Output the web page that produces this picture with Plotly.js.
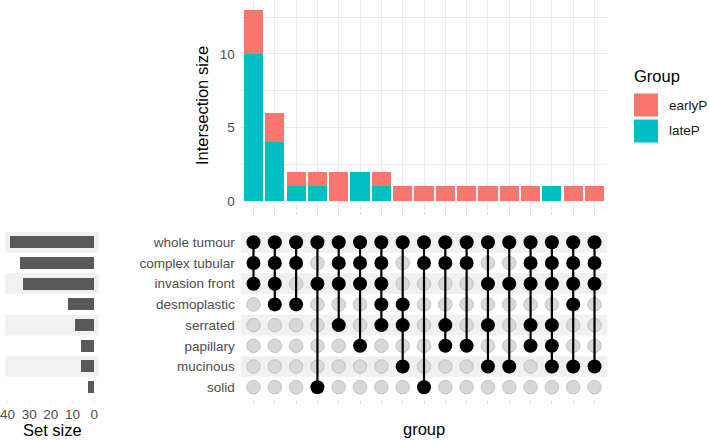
<!DOCTYPE html>
<html>
<head>
<meta charset="utf-8">
<script src="https://cdn.plot.ly/plotly-3.0.1.min.js"></script>
<style>html,body{margin:0;padding:0;background:#fff;}#chart{width:709px;height:441px;}</style>
</head>
<body>
<div id="chart"></div>
<script>
// ---- data ----
const sets = ['whole tumour','complex tubular','invasion front','desmoplastic','serrated','papillary','mucinous','solid'];
const setSizes = [39, 34, 33, 12, 9, 6, 6, 3];
const intersections = [
  ['whole tumour','complex tubular','invasion front'],
  ['whole tumour','complex tubular','invasion front','desmoplastic'],
  ['whole tumour','complex tubular','desmoplastic'],
  ['whole tumour','invasion front','solid'],
  ['whole tumour','complex tubular','invasion front','serrated'],
  ['whole tumour','complex tubular','invasion front','papillary'],
  ['whole tumour','complex tubular','invasion front','desmoplastic','serrated'],
  ['whole tumour','desmoplastic','serrated','mucinous'],
  ['whole tumour','complex tubular','solid'],
  ['whole tumour','complex tubular','serrated','papillary'],
  ['whole tumour','complex tubular','papillary'],
  ['whole tumour','invasion front','serrated','mucinous'],
  ['whole tumour','invasion front','mucinous'],
  ['whole tumour','complex tubular','invasion front','serrated','papillary'],
  ['whole tumour','complex tubular','invasion front','serrated','papillary','mucinous'],
  ['whole tumour','complex tubular','invasion front','desmoplastic','mucinous'],
  ['whole tumour','complex tubular','invasion front','mucinous']
];
const earlyP = [3, 2, 1, 1, 2, 0, 1, 1, 1, 1, 1, 1, 1, 1, 0, 1, 1];
const lateP  = [10, 4, 1, 1, 0, 2, 1, 0, 0, 0, 0, 0, 0, 0, 1, 0, 0];
const groups = ['earlyP', 'lateP'];
const groupColors = ['#F8766D', '#00BFC4'];
const yTicks = [0, 2.5, 5, 7.5, 10, 12.5];
const yTickText = ['0', '', '5', '', '10', ''];
const setTicks = [0, 10, 20, 30, 40];

// ---- helpers ----
const W = 709, H = 441;
const fx = p => p / W;
const fy = p => 1 - p / H;
const FONT = 'Liberation Sans, Arial, Helvetica, sans-serif';
const TICKC = '#4d4d4d';
const nSets = sets.length;
const cols = intersections.map((_, i) => i + 1);
const rowY = s => nSets - sets.indexOf(s);

// ---- traces ----
const traces = [];
traces.push({type:'bar', x: cols, y: lateP, name: groups[1], marker:{color: groupColors[1]}, width: 0.9, xaxis:'x', yaxis:'y', hoverinfo:'skip'});
traces.push({type:'bar', x: cols, y: earlyP, name: groups[0], marker:{color: groupColors[0]}, width: 0.9, xaxis:'x', yaxis:'y', hoverinfo:'skip'});

// matrix: grey dots, lines, black dots
const gx = [], gy = [], bx = [], by = [], lx = [], ly = [];
intersections.forEach((mem, i) => {
  const c = i + 1;
  sets.forEach(s => {
    if (mem.includes(s)) { bx.push(c); by.push(rowY(s)); }
    else { gx.push(c); gy.push(rowY(s)); }
  });
  const ys = mem.map(rowY);
  lx.push(c, c, null); ly.push(Math.max(...ys), Math.min(...ys), null);
});
traces.push({type:'scatter', mode:'markers', x: gx, y: gy, xaxis:'x2', yaxis:'y2', hoverinfo:'skip',
  marker:{size: 13.5, color:'#d8d8d8', line:{color:'#c2c2c2', width:1}}});
traces.push({type:'scatter', mode:'lines', x: lx, y: ly, xaxis:'x2', yaxis:'y2', hoverinfo:'skip',
  line:{color:'#000', width:2.2}});
traces.push({type:'scatter', mode:'markers', x: bx, y: by, xaxis:'x2', yaxis:'y2', hoverinfo:'skip',
  marker:{size: 14, color:'#000'}});

// set size bars
traces.push({type:'bar', orientation:'h', x: setSizes, y: sets.map(rowY), xaxis:'x3', yaxis:'y2',
  width: 0.58, marker:{color:'#595959'}, hoverinfo:'skip'});

// ---- shapes ----
const shapes = [];
sets.forEach((s, k) => {
  if (k % 2 === 0) {
    ['x2 domain', 'x3 domain'].forEach(xr => {
      shapes.push({type:'rect', xref: xr, yref:'y2', x0: 0, x1: 1, y0: rowY(s) - 0.5, y1: rowY(s) + 0.5,
        fillcolor:'#f1f1f1', line:{width:0}, layer:'below'});
    });
  }
});
// legend keys
groups.forEach((g, i) => {
  const top = 93.5 + i * 26;
  shapes.push({type:'rect', xref:'paper', yref:'paper', x0: fx(634), x1: fx(658), y0: fy(top + 23), y1: fy(top),
    fillcolor: groupColors[i], line:{width:0}});
});

const annotations = [
  {text:'Intersection size', x: fx(202), y: fy(106), textangle: -90, font:{size:16.5, color:'#000', family:FONT}},
  {text:'Set size', x: fx(52), y: fy(430), font:{size:16.5, color:'#000', family:FONT}},
  {text:'group', x: fx(424), y: fy(429), font:{size:16.5, color:'#000', family:FONT}},
  {text:'Group', x: fx(632), y: fy(76), xanchor:'left', font:{size:16.5, color:'#000', family:FONT}}
].map(a => Object.assign({xref:'paper', yref:'paper', showarrow:false, xanchor:'center', yanchor:'middle'}, a));
groups.forEach((g, i) => {
  annotations.push({text: g, xref:'paper', yref:'paper', x: fx(667), y: fy(105 + i * 26), xanchor:'left', yanchor:'middle',
    showarrow:false, font:{size:13.5, color:'#1a1a1a', family:FONT}});
});

const xr = [0.4, intersections.length + 0.6];
const layout = {
  width: W, height: H,
  margin: {l:0, r:0, t:0, b:0},
  paper_bgcolor:'#fff', plot_bgcolor:'#fff',
  showlegend: false,
  barmode: 'stack',
  bargap: 0,
  font: {family: FONT, color: TICKC},
  xaxis: {domain:[fx(240.7), fx(607.3)], range: xr, anchor:'y', tickvals: cols, ticktext: cols.map(() => ''),
    showgrid:true, gridcolor:'#ebebeb', gridwidth:1, zeroline:false, showline:false,
    ticks:'outside', ticklen:3, tickcolor:'#d9d9d9', fixedrange:true},
  yaxis: {domain:[fy(210.6), fy(0.3)], range:[-0.65, 13.65], anchor:'x', tickvals: yTicks, ticktext: yTickText,
    showgrid:true, gridcolor:'#ebebeb', gridwidth:1, zeroline:false, showline:false, ticks:'',
    ticklabelstandoff: 5, tickfont:{size:13.5, color:TICKC}, fixedrange:true},
  xaxis2: {domain:[fx(240.7), fx(607.3)], range: xr, anchor:'y2', tickvals: cols, ticktext: cols.map(() => ''),
    showgrid:false, zeroline:false, showline:false, ticks:'outside', ticklen:3, tickcolor:'#e3e3e3', fixedrange:true},
  yaxis2: {domain:[fy(399.6), fy(229.9)], range:[0.4, nSets + 0.6], anchor:'x2', tickvals: sets.map(rowY), ticktext: sets,
    showgrid:false, zeroline:false, showline:false, ticks:'', ticklabelstandoff: 5,
    tickfont:{size:13.5, color:TICKC}, fixedrange:true},
  xaxis3: {domain:[fx(5.4), fx(98.5)], range:[40.95, -1.95], anchor:'y2', tickvals: setTicks,
    showgrid:false, zeroline:false, showline:false, ticks:'outside', ticklen:2, tickcolor:'#e3e3e3',
    ticklabeloverflow:'allow', tickfont:{size:13.5, color:TICKC}, fixedrange:true}
};
layout.shapes = shapes;
layout.annotations = annotations;

Plotly.newPlot('chart', traces, layout, {displayModeBar:false, staticPlot:true});
</script>
</body>
</html>
